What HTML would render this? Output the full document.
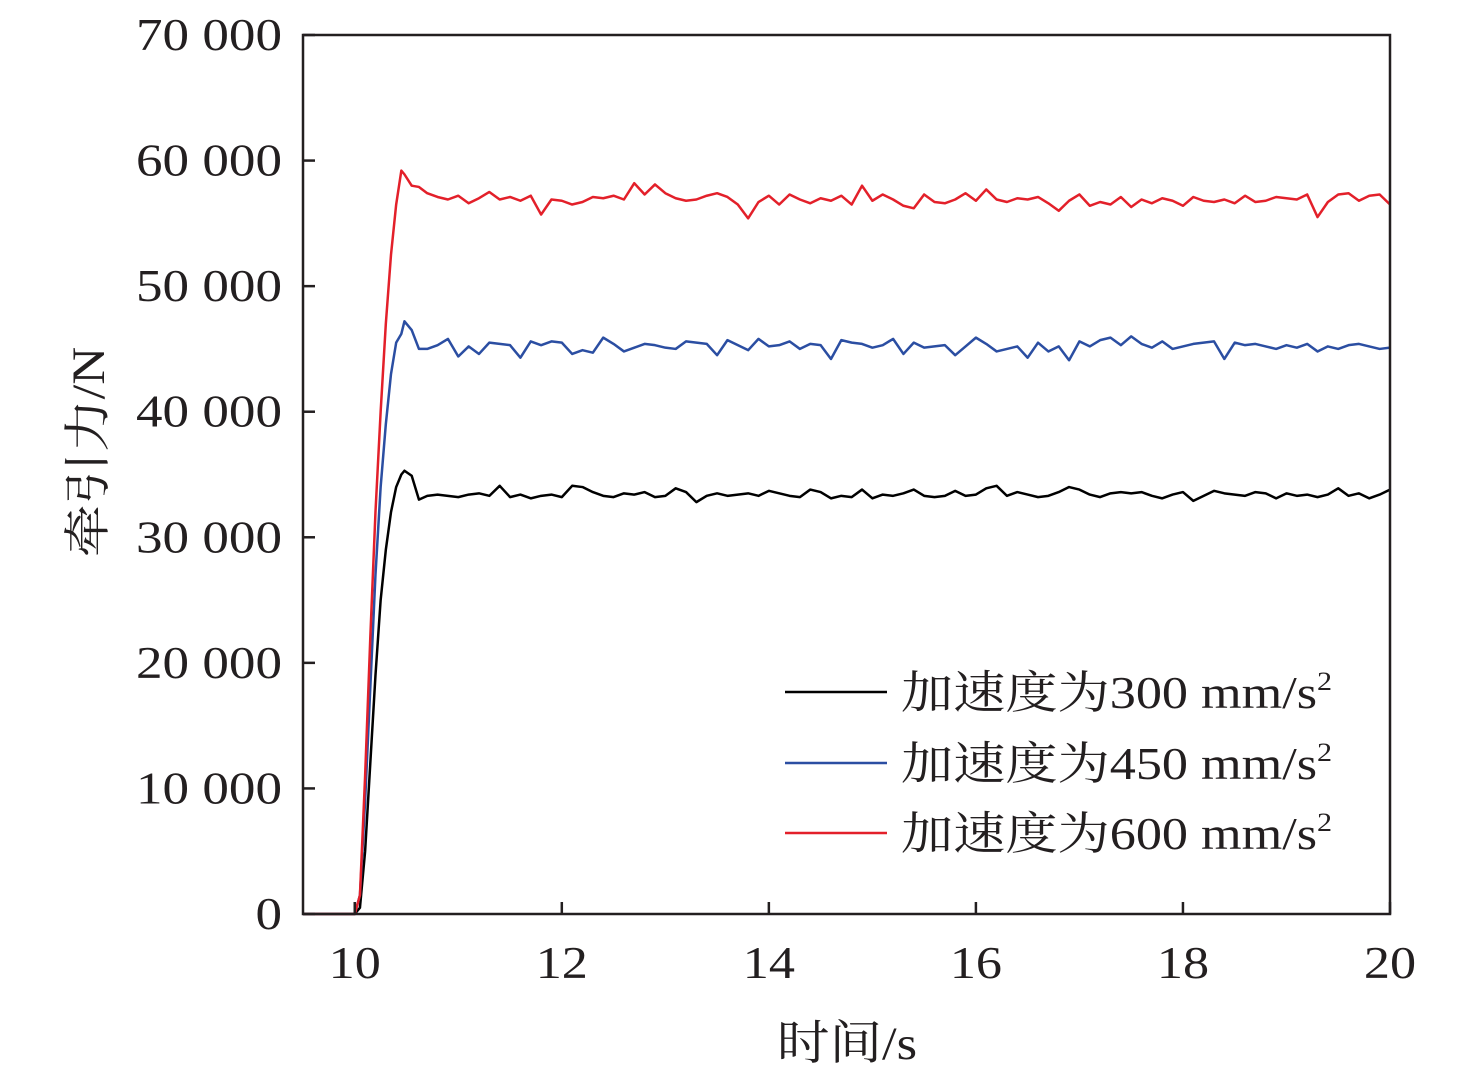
<!DOCTYPE html>
<html><head><meta charset="utf-8">
<style>
html,body{margin:0;padding:0;background:#fff;}
svg{display:block;}
text{font-family:"Liberation Serif","Noto Serif CJK SC",serif;fill:#231f20;}
</style></head>
<body>
<svg id="chart" width="1476" height="1083" viewBox="0 0 1476 1083" xmlns="http://www.w3.org/2000/svg"></svg>
<script>
const riseTimes = [9.5,10.0,10.05,10.1,10.15,10.2,10.25,10.3,10.35,10.4,10.45,10.48,10.55,10.62];
const riseBlack = [0,0,500,5000,12000,19000,25000,29000,32000,34000,35000,35300,34900,33000];
const riseBlue  = [0,0,1500,9000,18000,27000,34000,39000,43000,45500,46200,47200,46500,45000];
const riseRed   = [0,0,1500,11000,22000,32000,40000,47000,52500,56500,59200,58900,58000,57900];
const steadyStart = 10.7, steadyEnd = 20.0;
const steadyBlack = [33300,33400,33300,33200,33400,33500,33300,34100,33200,33400,33100,33300,33400,33200,34100,34000,33600,33300,33200,33500,33400,33600,33200,33300,33900,33600,32800,33300,33500,33300,33400,33500,33300,33700,33500,33300,33200,33800,33600,33100,33300,33200,33800,33100,33400,33300,33500,33800,33300,33200,33300,33700,33300,33400,33900,34100,33300,33600,33400,33200,33300,33600,34000,33800,33400,33200,33500,33600,33500,33600,33300,33100,33400,33600,32900,33300,33700,33500,33400,33300,33600,33500,33100,33500,33300,33400,33200,33400,33900,33300,33500,33100,33400,33800];
const steadyBlue = [45000,45300,45800,44400,45200,44600,45500,45400,45300,44300,45600,45300,45600,45500,44600,44900,44700,45900,45400,44800,45100,45400,45300,45100,45000,45600,45500,45400,44500,45700,45300,44900,45800,45200,45300,45600,45000,45400,45300,44200,45700,45500,45400,45100,45300,45800,44600,45500,45100,45200,45300,44500,45200,45900,45400,44800,45000,45200,44300,45500,44800,45200,44100,45600,45200,45700,45900,45300,46000,45400,45100,45600,45000,45200,45400,45500,45600,44200,45500,45300,45400,45200,45000,45300,45100,45400,44800,45200,45000,45300,45400,45200,45000,45100];
const steadyRed = [57400,57100,56900,57200,56600,57000,57500,56900,57100,56800,57200,55700,56900,56800,56500,56700,57100,57000,57200,56900,58200,57300,58100,57400,57000,56800,56900,57200,57400,57100,56500,55400,56700,57200,56500,57300,56900,56600,57000,56800,57200,56500,58000,56800,57300,56900,56400,56200,57300,56700,56600,56900,57400,56800,57700,56900,56700,57000,56900,57100,56600,56000,56800,57300,56400,56700,56500,57100,56300,56900,56600,57000,56800,56400,57100,56800,56700,56900,56600,57200,56700,56800,57100,57000,56900,57300,55500,56700,57300,57400,56800,57200,57300,56500];
const xTicks = [10,12,14,16,18,20];
const yTicks = [0,10000,20000,30000,40000,50000,60000,70000];
const yTickLabels = ["0","10 000","20 000","30 000","40 000","50 000","60 000","70 000"];
const legendLabels = ["加速度为300 mm/s","加速度为450 mm/s","加速度为600 mm/s"];
const colors = ["#000000","#2b4ea2","#e3202a"];

const L=303,R=1390,T=35,B=914, xmin=9.5,xmax=20,ymin=0,ymax=70000;
const sx=v=>L+(v-xmin)/(xmax-xmin)*(R-L);
const sy=v=>B-(v-ymin)/(ymax-ymin)*(B-T);
const svg=document.getElementById('chart');
const NS='http://www.w3.org/2000/svg';
function mk(tag,attrs,parent){const e=document.createElementNS(NS,tag);for(const k in attrs)e.setAttribute(k,attrs[k]);(parent||svg).appendChild(e);return e;}

const series=[[riseBlack,steadyBlack],[riseBlue,steadyBlue],[riseRed,steadyRed]];
const names=['series-300','series-450','series-600'];
series.forEach((s,si)=>{
  const pts=[];
  riseTimes.forEach((t,i)=>pts.push(sx(t)+','+sy(s[0][i])));
  const n=s[1].length;
  s[1].forEach((v,i)=>{const t=steadyStart+(steadyEnd-steadyStart)*i/(n-1);pts.push(sx(t)+','+sy(v));});
  const p=mk('polyline',{points:pts.join(' '),fill:'none',stroke:colors[si],'stroke-width':2.5,'stroke-linejoin':'round'});
  
  
});

const frame=mk('rect',{x:L,y:T,width:R-L,height:B-T,fill:'none',stroke:'#231f20','stroke-width':2.5});



xTicks.forEach(v=>{
  const tk=mk('line',{x1:sx(v),x2:sx(v),y1:B,y2:B-12,stroke:'#231f20','stroke-width':2.5});
  
  
  const tx=mk('text',{x:0,y:0,'text-anchor':'middle','font-size':45,transform:`translate(${sx(v)},978) scale(1.16,1)`});
  tx.textContent=v;
  
  
});
yTicks.forEach((v,i)=>{
  const tk=mk('line',{x1:L,x2:L+12,y1:sy(v),y2:sy(v),stroke:'#231f20','stroke-width':2.5});
  
  
  const tx=mk('text',{x:0,y:0,'text-anchor':'end','font-size':45,transform:`translate(282,${sy(v)+15}) scale(1.18,1)`});
  tx.textContent=yTickLabels[i];
  
  
});

const xt=mk('text',{x:0,y:0,'text-anchor':'middle','font-size':47,transform:'translate(847,1059) scale(1.12,1)'});
xt.textContent='时间/s';


const yt=mk('text',{x:0,y:0,'text-anchor':'middle','font-size':47,transform:'translate(104,452) rotate(-90) scale(1.12,1)'});
yt.textContent='牵引力/N';



const legendY=[692,763,833];
legendLabels.forEach((lab,i)=>{
  const g=mk('g',{});
  
  
  mk('line',{x1:785,x2:887,y1:legendY[i],y2:legendY[i],stroke:colors[i],'stroke-width':2.5},g);
  const t=mk('text',{x:0,y:0,'font-size':45,transform:`translate(901,${legendY[i]+16}) scale(1.16,1)`},g);
  t.textContent=lab;
  const sup=mk('tspan',{'font-size':26,dy:-18},t);
  sup.textContent='2';
});
</script>
</body></html>
